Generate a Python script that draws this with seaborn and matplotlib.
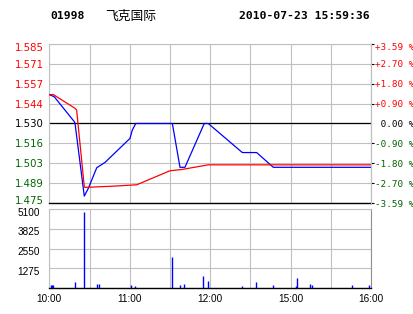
import numpy as np
import pandas as pd
import matplotlib
matplotlib.use("Agg")
import matplotlib.pyplot as plt
import matplotlib.transforms as mtransforms
import seaborn as sns

# ---------------- data ----------------
stock_code = "01998"
stock_name = "飞克国际"
timestamp = "2010-07-23 15:59:36"
prev_close = 1.530

# trading minutes from 10:00 (10:00-12:30, 14:30-16:00 -> 0..240)
price_min = [0, 3.7, 18.7, 19.2, 26.1, 29.1, 35.4, 41.6, 60.2, 61.9, 64.5,
             91.8, 97.5, 101.2, 115.6, 118.6, 144.0, 154.7, 167.1, 239.5]
price_val = [1.550, 1.5485, 1.5312, 1.530, 1.4798, 1.4851, 1.4994, 1.5031,
             1.5197, 1.5254, 1.530, 1.530, 1.4997, 1.4997, 1.530, 1.530,
             1.5099, 1.5099, 1.4997, 1.4997]

avg_min = [0, 3.0, 19.2, 20.4, 26.1, 26.6, 49.0, 65.2, 90.0, 99.0, 118.6, 239.5]
avg_val = [1.550, 1.550, 1.5405, 1.5393, 1.4862, 1.4858, 1.4867, 1.4876,
           1.4973, 1.4982, 1.5014, 1.5014]

vol_min = [1, 2, 3, 19.5, 26.1, 35.8, 37.1, 61.2, 64.2, 91.8, 97.7, 100.7,
           114.9, 118.6, 144.0, 154.4, 167.1, 184.3, 185.0, 194.7, 196.2,
           226.0, 238.7]
vol_val = [200, 200, 200, 390, 4950, 260, 260, 200, 130, 2010, 200, 260,
           780, 450, 130, 390, 200, 130, 650, 260, 200, 200, 200]

price_ticks = [1.475, 1.48875, 1.5025, 1.51625, 1.530, 1.54375, 1.5575, 1.57125, 1.585]
price_tick_labels = ["1.475", "1.489", "1.503", "1.516", "1.530",
                     "1.544", "1.557", "1.571", "1.585"]
pct_tick_labels = ["-3.59 %", "-2.70 %", "-1.80 %", "-0.90 %", " 0.00 %",
                   "+0.90 %", "+1.80 %", "+2.70 %", "+3.59 %"]
vol_ticks = [0, 1275, 2550, 3825, 5100]
vol_tick_labels = ["", "1275", "2550", "3825", "5100"]
grid_minutes = [0, 30, 60, 90, 120, 150, 180, 210, 240]
time_labels = ["10:00", "", "11:00", "", "12:00", "", "15:00", "", "16:00"]

# ---------------- styles ----------------
RED = "#ff0000"
GREEN = "#006400"
BLUE = "#0000ff"
GRID = "#c0c0c0"

price_df = pd.DataFrame({"minute": price_min, "price": price_val})
avg_df = pd.DataFrame({"minute": avg_min, "price": avg_val})
vol_df = pd.DataFrame({"minute": vol_min, "volume": vol_val})

fig = plt.figure(figsize=(4.14, 3.14), dpi=100)
fig.patch.set_facecolor("white")

ax = fig.add_axes([49.3 / 414, 1 - 203 / 314, (371 - 49.3) / 414, (203 - 44) / 314])
axv = fig.add_axes([49.3 / 414, 1 - 288 / 314, (371 - 49.3) / 414, (288 - 209.3) / 314])

# ---- price panel ----
ax.set_xlim(0, 240)
ax.set_ylim(1.475, 1.585)
ax.set_xticks(grid_minutes)
ax.set_xticklabels([])
ax.set_yticks(price_ticks)
ax.set_yticklabels(price_tick_labels)
ax.grid(True, color=GRID, lw=0.8)
ax.set_axisbelow(True)
ax.tick_params(axis="both", length=0)
ax.tick_params(axis="y", pad=4)
for lab, v in zip(ax.get_yticklabels(), price_ticks):
    lab.set_fontfamily("DejaVu Sans")
    lab.set_fontsize(7.3)
    lab.set_color(RED if v > prev_close + 1e-9 else (GREEN if v < prev_close - 1e-9 else "black"))
ylabs = ax.get_yticklabels()
ylabs[-1].set_transform(ylabs[-1].get_transform() + mtransforms.ScaledTranslation(0, -3 / 100, fig.dpi_scale_trans))
ylabs[0].set_transform(ylabs[0].get_transform() + mtransforms.ScaledTranslation(0, 3 / 100, fig.dpi_scale_trans))

for s in ["top", "left", "right"]:
    ax.spines[s].set_color(GRID)
    ax.spines[s].set_linewidth(0.8)
ax.spines["bottom"].set_color("black")
ax.spines["bottom"].set_linewidth(1.0)
ax.axhline(prev_close, color="black", lw=0.9, zorder=1.5)

sns.lineplot(data=price_df, x="minute", y="price", ax=ax, color=BLUE, lw=0.9,
             estimator=None, sort=False, zorder=3)
sns.lineplot(data=avg_df, x="minute", y="price", ax=ax, color=RED, lw=0.9,
             estimator=None, sort=False, zorder=4)
ax.set_xlabel("")
ax.set_ylabel("")

# right percentage axis
ax2 = ax.twinx()
ax2.set_ylim(1.475, 1.585)
ax2.set_yticks(price_ticks)
ax2.set_yticklabels(pct_tick_labels)
ax2.tick_params(axis="y", length=2.5, width=0.8, pad=0.3, direction="out")
for s in ["top", "left", "bottom"]:
    ax2.spines[s].set_visible(False)
ax2.spines["right"].set_color(GRID)
ax2.spines["right"].set_linewidth(0.8)
for tick, v in zip(ax2.yaxis.get_major_ticks(), price_ticks):
    c = RED if v > prev_close + 1e-9 else (GREEN if v < prev_close - 1e-9 else "black")
    tick.tick2line.set_color(c)
    tick.label2.set_color(c)
    tick.label2.set_fontfamily("DejaVu Sans Mono")
    tick.label2.set_fontsize(6.7)
    if abs(v - prev_close) < 1e-9:
        tick.tick2line.set_visible(False)
r = ax2.yaxis.get_major_ticks()[-1].label2
r.set_transform(r.get_transform() + mtransforms.ScaledTranslation(0, -2.5 / 100, fig.dpi_scale_trans))

# ---- volume panel ----
axv.set_xlim(0, 240)
axv.set_ylim(0, 5100)
axv.set_xticks(grid_minutes)
axv.set_xticklabels(time_labels)
axv.set_yticks(vol_ticks)
axv.set_yticklabels(vol_tick_labels)
axv.grid(True, color=GRID, lw=0.8)
axv.set_axisbelow(True)
axv.tick_params(axis="both", length=0)
axv.tick_params(axis="y", pad=7)
axv.tick_params(axis="x", pad=4.5)
for lab in axv.get_yticklabels() + axv.get_xticklabels():
    lab.set_fontfamily(["Liberation Sans Narrow", "Liberation Sans"])
    lab.set_fontsize(7.2)
    lab.set_color("black")
for lab in axv.get_yticklabels():
    lab.set_transform(lab.get_transform() + mtransforms.ScaledTranslation(0, -2.5 / 100, fig.dpi_scale_trans))
for s in ["top", "left"]:
    axv.spines[s].set_color(GRID)
    axv.spines[s].set_linewidth(0.8)
axv.spines["right"].set_color("#909090")
axv.spines["right"].set_linewidth(0.8)
axv.spines["bottom"].set_color("black")
axv.spines["bottom"].set_linewidth(1.0)
axv.vlines(vol_df["minute"], 0, vol_df["volume"], color=BLUE, lw=1.0, zorder=3)

# ---- header ----
fig.text(50 / 414, 1 - 16 / 314, stock_code, ha="left", va="center",
         fontfamily="DejaVu Sans Mono", fontweight="bold", fontsize=8.2)
fig.text(105 / 414, 1 - 16 / 314, stock_name, ha="left", va="center",
         fontfamily=["Noto Sans CJK SC", "DejaVu Sans"], fontweight="light", fontsize=9.2)
fig.text(370 / 414, 1 - 16 / 314, timestamp, ha="right", va="center",
         fontfamily="DejaVu Sans Mono", fontweight="bold", fontsize=8.2)

fig.savefig("out.png", dpi=100, facecolor="white")
